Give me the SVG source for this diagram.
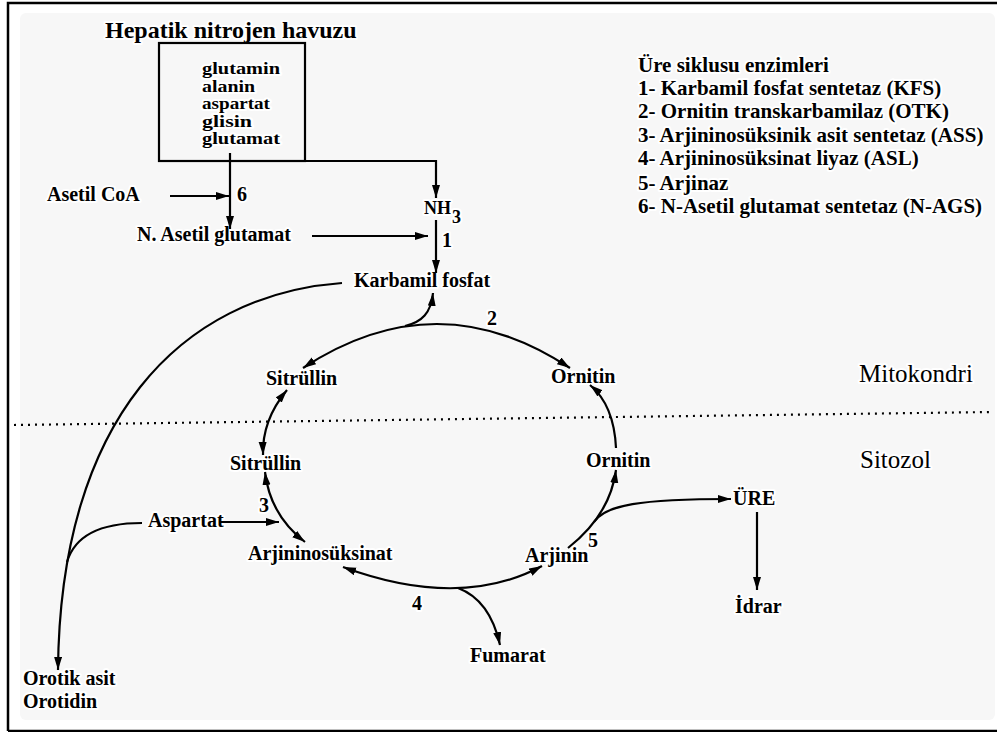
<svg xmlns="http://www.w3.org/2000/svg" width="997" height="732" viewBox="0 0 997 732">
<style>
text{font-family:"Liberation Serif","Times New Roman",serif;font-weight:bold;font-size:20px;fill:#000;stroke:#fff;stroke-width:4;stroke-linejoin:round;paint-order:stroke}
.title{font-size:24px}
.leg{font-size:21px}
.zone{font-size:25px;font-weight:normal}
.pool{font-size:16.5px}
.nh{font-size:18px}
.c{fill:none;stroke:#000;stroke-width:2.2}
.a{marker-end:url(#ah)}
.aa{marker-end:url(#ah);marker-start:url(#ah)}
</style>
<defs>
<marker id="ah" markerUnits="userSpaceOnUse" markerWidth="14" markerHeight="9" refX="13" refY="4" orient="auto-start-reverse">
<path d="M0,0 L13,4 L0,8 Z" fill="#000"/>
</marker>
</defs>
<rect x="0" y="0" width="997" height="732" fill="#fff"/>
<rect x="20" y="13" width="975" height="707" rx="6" fill="#f7f7f7"/>
<path d="M8,731 L8,3 L997,3 M8,731 L997,731" fill="none" stroke="#000" stroke-width="2.5"/>
<line x1="14" y1="425" x2="993" y2="412" stroke="#000" stroke-width="2.2" stroke-dasharray="2 5"/>

<g id="pool">
<text class="title" x="105" y="38">Hepatik nitrojen havuzu</text>
<rect x="159" y="43" width="146" height="118" fill="none" stroke="#000" stroke-width="2.2"/>
<text class="pool" x="202" y="74" textLength="78" lengthAdjust="spacingAndGlyphs">glutamin</text>
<text class="pool" x="202" y="91.5" textLength="53" lengthAdjust="spacingAndGlyphs">alanin</text>
<text class="pool" x="202" y="109" textLength="68" lengthAdjust="spacingAndGlyphs">aspartat</text>
<text class="pool" x="202" y="126.5" textLength="50" lengthAdjust="spacingAndGlyphs">glisin</text>
<text class="pool" x="202" y="144" textLength="78" lengthAdjust="spacingAndGlyphs">glutamat</text>
</g>
<g id="legend">
<text class="leg" x="638" y="72">Üre siklusu enzimleri</text>
<text class="leg" x="638" y="95">1- Karbamil fosfat sentetaz (KFS)</text>
<text class="leg" x="638" y="118">2- Ornitin transkarbamilaz (OTK)</text>
<text class="leg" x="638" y="142">3- Arjininosüksinik asit sentetaz (ASS)</text>
<text class="leg" x="638" y="165">4- Arjininosüksinat liyaz (ASL)</text>
<text class="leg" x="638" y="190">5- Arjinaz</text>
<text class="leg" x="638" y="213">6- N-Asetil glutamat sentetaz (N-AGS)</text>
</g>
<g id="zones">
<text class="zone" x="859" y="382">Mitokondri</text>
<text class="zone" x="860" y="468">Sitozol</text>
</g>
<g id="asetilcoa"><text x="47" y="201">Asetil CoA</text></g>
<g id="nasetil"><text x="137" y="241">N. Asetil glutamat</text></g>
<g id="nh3"><text class="nh" x="424" y="214">NH<tspan x="452" y="223">3</tspan></text></g>
<g id="karbamil"><text x="354" y="287">Karbamil fosfat</text></g>
<g id="sitrullin-m"><text x="266" y="385">Sitrüllin</text></g>
<g id="ornitin-m"><text x="551" y="383">Ornitin</text></g>
<g id="sitrullin-c"><text x="230" y="470">Sitrüllin</text></g>
<g id="ornitin-c"><text x="586" y="467">Ornitin</text></g>
<g id="aspartat"><text x="148" y="527">Aspartat</text></g>
<g id="arjininosuksinat"><text x="248" y="560">Arjininosüksinat</text></g>
<g id="arjinin"><text x="525" y="562">Arjinin</text></g>
<g id="ure"><text x="733" y="505">ÜRE</text></g>
<g id="idrar"><text x="735" y="613">İdrar</text></g>
<g id="fumarat"><text x="470" y="662">Fumarat</text></g>
<g id="orotik"><text x="23" y="685">Orotik asit</text><text x="23" y="708">Orotidin</text></g>
<g id="enzyme-labels">
<text x="237" y="201">6</text>
<text x="442" y="247">1</text>
<text x="487" y="325">2</text>
<text x="259" y="512">3</text>
<text x="412" y="610">4</text>
<text x="588" y="547">5</text>
</g>

<g id="connectors">
<path class="c a" d="M230,153 L230,229"/>
<path class="c a" d="M305,161 L436,161 L436,198"/>
<path class="c a" d="M170,196 L229,196"/>
<path class="c a" d="M312,236 L428,236"/>
<path class="c a" d="M436,220 L436,273"/>
<path class="c a" d="M342,283 C180,295 60,420 58,670"/>
<path class="c" d="M67,562 C75,535 100,523 142,523"/>
<path class="c a" d="M220,522 L279,522"/>
<path class="c aa" d="M303,368 Q437,280 570,368"/>
<path class="c a" d="M405,326 C422,322 431,313 433,293"/>
<path class="c aa" d="M287,390 Q262,420 263,455"/>
<path class="c aa" d="M265,472 Q270,515 305,542"/>
<path class="c aa" d="M343,567 Q460,610 542,566"/>
<path class="c a" d="M458,588 Q490,600 500,645"/>
<path class="c a" d="M568,548 Q610,515 616,470"/>
<path class="c a" d="M594,522 C605,505 640,499 731,499"/>
<path class="c a" d="M616,448 Q614,405 590,385"/>
<path class="c a" d="M757,512 L757,590"/>
</g>
</svg>
